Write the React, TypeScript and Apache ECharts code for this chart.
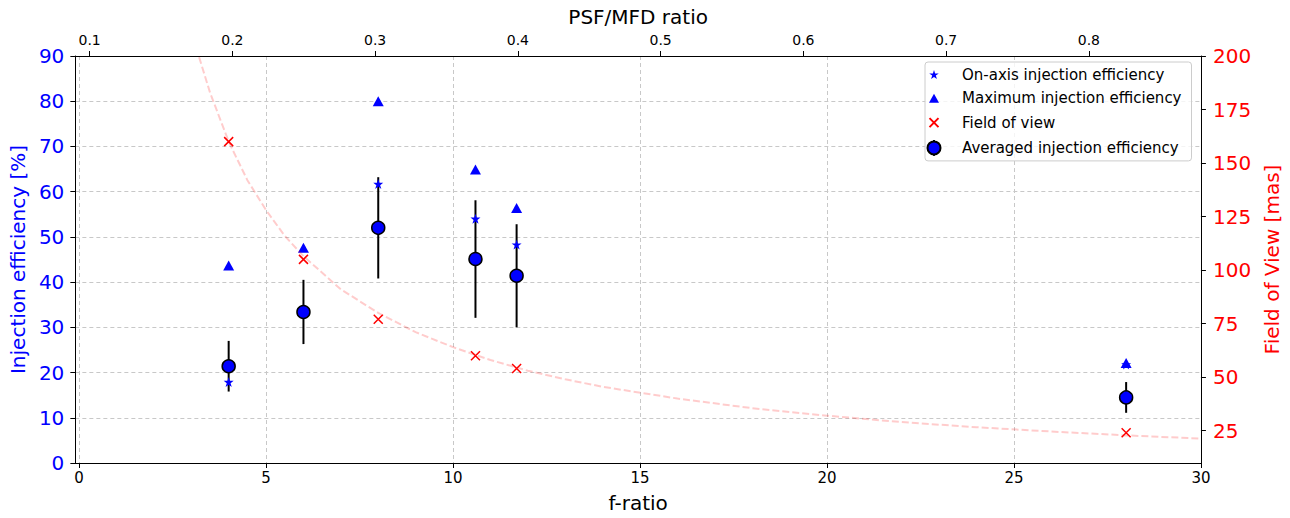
import React, { useEffect, useRef } from "react";
import * as echarts from "echarts";

const fRatio = [4, 6, 8, 10.6, 11.7, 28];
const onAxis = [17.9, 34.0, 61.7, 54.0, 48.3, 21.8];
const maximum = [43.7, 47.6, 80.0, 64.9, 56.4, 22.1];
const averaged = [21.4, 33.4, 52.0, 45.1, 41.4, 14.5];
const averagedErr = [5.6, 7.1, 11.2, 13.0, 11.4, 3.4];
const fieldOfView = [160, 105, 77, 60, 54, 24];

const curveF = [3.0, 3.2, 3.5, 4, 4.5, 5, 5.5, 6, 7, 8, 9, 10, 11, 12, 13, 14, 16, 18, 20, 22, 24, 26, 28, 30];
const curveFov = [213, 200, 183, 160, 142, 128, 116, 106.5, 91, 80, 71, 64, 58, 53, 49, 45.5, 40, 35.5, 32, 29, 26.6, 24.6, 22.8, 21.3];

const xTicks = [0, 5, 10, 15, 20, 25, 30];
const psfTicks = [0.1, 0.2, 0.3, 0.4, 0.5, 0.6, 0.7, 0.8];
const fovTicks = [25, 50, 75, 100, 125, 150, 175, 200];

const FONT = "DejaVu Sans";
const BLUE = "#0000ff";
const RED = "#ff0000";
const GRID = "#c8c8c8";

const STAR =
  "path://M0,-10L2.25,-3.09L9.51,-3.09L3.63,1.18L5.88,8.09L0,3.82L-5.88,8.09L-3.63,1.18L-9.51,-3.09L-2.25,-3.09Z";
const XMARK = "path://M-5,-5L5,5M5,-5L-5,5";
const PAD = "M-8,-8M11,8";
const LEG_STAR =
  "path://" + PAD + "M0,-5L1.12,-1.55L4.76,-1.55L1.82,0.59L2.94,4.05L0,1.91L-2.94,4.05L-1.82,0.59L-4.76,-1.55L-1.12,-1.55Z";
const LEG_TRI = "path://" + PAD + "M0,-4.5L5,4.5L-5,4.5Z";
const LEG_X = "path://" + PAD + "M-4.5,-4.5L4.5,4.5M4.5,-4.5L-4.5,4.5";
const LEG_AVG =
  "path://" + PAD + "M0,-8L0,-6.5M0,6.5L0,8M-6.5,0A6.5,6.5,0,1,1,6.5,0A6.5,6.5,0,1,1,-6.5,0Z";

export default function App() {
  const ref = useRef<HTMLDivElement>(null);
  useEffect(() => {
    document.body.style.margin = "0";
    document.body.style.overflow = "hidden";
    const el = ref.current;
    if (!el) return;
    const W = window.innerWidth > 100 ? window.innerWidth : 1290;
    const H = window.innerHeight > 100 ? window.innerHeight : 518;
    el.style.width = W + "px";
    el.style.height = H + "px";
    const sx = W / 1290;
    const sy = H / 518;
    const fs = (v: number) => v * sx;
    const X = (v: number) => v * sx;
    const Y = (v: number) => v * sy;
    const chart = echarts.init(el, null, { renderer: "svg", width: W, height: H });
    const pts = (ys: number[]) => fRatio.map((f, i) => [f, ys[i]]);
    const option: any = {
      animation: false,
      backgroundColor: "#ffffff",
      textStyle: { fontFamily: FONT },
      grid: { left: X(75), right: X(82), top: Y(56), bottom: Y(50), containLabel: false },
      legend: {
        left: X(925),
        top: Y(62),
        orient: "vertical",
        itemWidth: X(43),
        itemHeight: Y(16),
        itemGap: Y(7.3),
        padding: [Y(5), X(10), Y(4), 0],
        backgroundColor: "rgba(255,255,255,0.8)",
        borderColor: "#cccccc",
        borderWidth: 1,
        borderRadius: 3,
        selectedMode: false,
        textStyle: { fontSize: fs(15), fontFamily: FONT, color: "#000" },
        data: [
          { name: "On-axis injection efficiency", icon: LEG_STAR },
          { name: "Maximum injection efficiency", icon: LEG_TRI },
          { name: "Field of view", icon: LEG_X },
          { name: "Averaged injection efficiency", icon: LEG_AVG },
        ],
      },
      xAxis: [
        {
          type: "value",
          position: "bottom",
          min: -0.1,
          max: 30,
          axisLine: { show: true, onZero: false, lineStyle: { color: "#000", width: 1 } },
          axisTick: { show: true, length: 5, customValues: xTicks, lineStyle: { color: "#000" } },
          axisLabel: {
            customValues: xTicks,
            fontSize: fs(15),
            color: "#000",
            fontFamily: FONT,
            margin: Y(7),
          },
          splitLine: { show: true, lineStyle: { color: GRID, type: [4, 3], width: 1 } },
          name: "f-ratio",
          nameLocation: "middle",
          nameGap: Y(30),
          nameTextStyle: { fontSize: fs(20), color: "#000", fontFamily: FONT },
        },
        {
          type: "value",
          position: "top",
          min: 0.09,
          max: 0.8785,
          axisLine: { show: true, onZero: false, lineStyle: { color: "#000", width: 1 } },
          axisTick: { show: true, length: 5, customValues: psfTicks, lineStyle: { color: "#000" } },
          axisLabel: {
            customValues: psfTicks,
            fontSize: fs(14),
            color: "#000",
            fontFamily: FONT,
            margin: Y(9),
            formatter: (v: number) => v.toFixed(1),
          },
          splitLine: { show: false },
          name: "PSF/MFD ratio",
          nameLocation: "middle",
          nameGap: Y(29),
          nameTextStyle: { fontSize: fs(20), color: "#000", fontFamily: FONT },
        },
      ],
      yAxis: [
        {
          type: "value",
          position: "left",
          min: 0,
          max: 90,
          interval: 10,
          axisLine: { show: true, onZero: false, lineStyle: { color: "#000", width: 1 } },
          axisTick: { show: true, length: 5, lineStyle: { color: "#000" } },
          axisLabel: { fontSize: fs(20), color: BLUE, fontFamily: FONT, margin: X(11) },
          splitLine: { show: true, lineStyle: { color: GRID, type: [4, 3], width: 1 } },
          name: "Injection efficiency [%]",
          nameLocation: "middle",
          nameRotate: 90,
          nameGap: X(43),
          nameTextStyle: { fontSize: fs(20), color: BLUE, fontFamily: FONT },
        },
        {
          type: "value",
          position: "right",
          min: 9.9,
          max: 200,
          axisLine: { show: true, onZero: false, lineStyle: { color: "#000", width: 1 } },
          axisTick: { show: true, length: 5, customValues: fovTicks, lineStyle: { color: "#000" } },
          axisLabel: { customValues: fovTicks, fontSize: fs(20), color: RED, fontFamily: FONT, margin: X(12) },
          splitLine: { show: false },
          name: "Field of View [mas]",
          nameLocation: "middle",
          nameRotate: 90,
          nameGap: X(58),
          nameTextStyle: { fontSize: fs(20), color: RED, fontFamily: FONT },
        },
      ],
      series: [
        {
          name: "fovModel",
          type: "line",
          xAxisIndex: 0,
          yAxisIndex: 1,
          data: curveF.map((f, i) => [f, curveFov[i]]),
          showSymbol: false,
          symbol: "none",
          silent: true,
          clip: true,
          lineStyle: { color: "rgba(255,0,0,0.2)", width: 2, type: [7, 3] },
        },
        {
          name: "On-axis injection efficiency",
          type: "scatter",
          xAxisIndex: 0,
          yAxisIndex: 0,
          data: pts(onAxis),
          symbol: STAR,
          symbolSize: 10,
          itemStyle: { color: BLUE, opacity: 1 },
        },
        {
          name: "Maximum injection efficiency",
          type: "scatter",
          xAxisIndex: 0,
          yAxisIndex: 0,
          data: pts(maximum),
          symbol: "triangle",
          symbolSize: [11, 10],
          itemStyle: { color: BLUE, opacity: 1 },
        },
        {
          name: "Field of view",
          type: "scatter",
          xAxisIndex: 0,
          yAxisIndex: 1,
          data: pts(fieldOfView),
          symbol: XMARK,
          symbolSize: 9,
          itemStyle: { color: RED, borderColor: RED, borderWidth: 1.5, opacity: 1 },
        },
        {
          name: "errorbars",
          type: "custom",
          xAxisIndex: 0,
          yAxisIndex: 0,
          silent: true,
          data: fRatio.map((f, i) => [f, averaged[i] - averagedErr[i], averaged[i] + averagedErr[i]]),
          encode: { x: 0, y: [1, 2] },
          renderItem: (params: any, api: any) => {
            const x = api.value(0);
            const p1 = api.coord([x, api.value(1)]);
            const p2 = api.coord([x, api.value(2)]);
            return {
              type: "line",
              shape: { x1: p1[0], y1: p1[1], x2: p2[0], y2: p2[1] },
              style: { stroke: "#000", lineWidth: 2 },
            };
          },
        },
        {
          name: "Averaged injection efficiency",
          type: "scatter",
          xAxisIndex: 0,
          yAxisIndex: 0,
          data: pts(averaged),
          symbol: "circle",
          symbolSize: 13,
          itemStyle: { color: BLUE, borderColor: "#000", borderWidth: 1.5, opacity: 1 },
        },
      ],
    };
    chart.setOption(option);
    return () => chart.dispose();
  }, []);
  return <div ref={ref} style={{ width: 1290, height: 518, background: "#fff" }} />;
}
